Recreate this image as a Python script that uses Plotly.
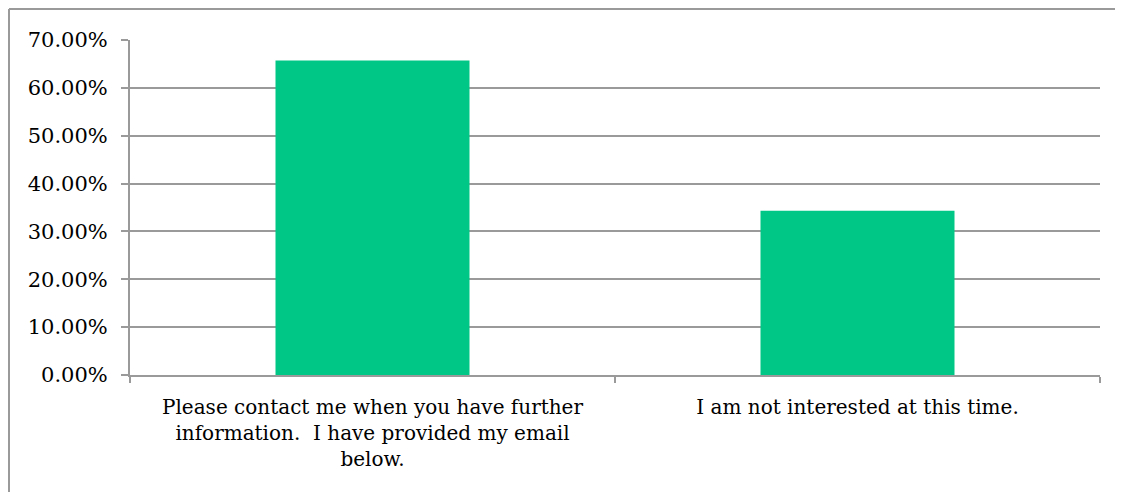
import plotly.graph_objects as go

categories = [
    "Please contact me when you have further<br>information.&nbsp; I have provided my email<br>below.",
    "I am not interested at this time.",
]
values = [0.657, 0.343]
y_ticks = [0, 0.1, 0.2, 0.3, 0.4, 0.5, 0.6, 0.7]

W, H = 1123, 492
ml, mr, mt, mb = 122, 31, 32, 125
pw, ph = W - ml - mr, H - mt - mb

fig = go.Figure(go.Bar(x=categories, y=values, marker=dict(color="#00C785", line=dict(width=0)), width=0.4))

grey = "#9a9a9a"
font_family = "DejaVu Serif"
fig.update_layout(
    width=W, height=H,
    margin=dict(l=ml, r=mr, t=mt, b=mb),
    paper_bgcolor="white", plot_bgcolor="white",
    showlegend=False,
    font=dict(family=font_family, size=20, color="black"),
    xaxis=dict(
        type="category", tickson="boundaries", ticks="outside", ticklen=6, tickcolor=grey, tickwidth=2,
        showline=True, linecolor=grey, linewidth=2, showgrid=False,
        tickfont=dict(family=font_family, size=20), range=[-0.5, 1.5],
        ticklabelstandoff=13,
    ),
    yaxis=dict(
        range=[0, 0.7], tickvals=y_ticks, tickformat=".2%", ticks="outside", ticklen=7,
        tickcolor=grey, tickwidth=2, showline=True, linecolor=grey, linewidth=2,
        showgrid=True, gridcolor=grey, gridwidth=2, zeroline=False,
        tickfont=dict(family=font_family, size=21), ticklabelstandoff=9,
    ),
    shapes=[
        dict(type="line", xref="paper", yref="paper",
             x0=(1 - ml) / pw, x1=(1 - ml) / pw, y0=1 + (mt - 1) / ph, y1=-mb / ph - 0.05,
             line=dict(color=grey, width=2)),
        dict(type="line", xref="paper", yref="paper",
             x0=(1 - ml) / pw, x1=1 + mr / pw + 0.05, y0=1 + (mt - 1) / ph, y1=1 + (mt - 1) / ph,
             line=dict(color=grey, width=2)),
    ],
)

fig.write_html("out.html")
